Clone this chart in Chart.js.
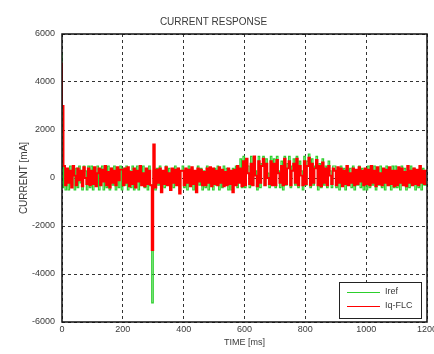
<!DOCTYPE html>
<html>
<head>
<meta charset="utf-8">
<script src="https://cdn.jsdelivr.net/npm/chart.js@4"></script>
<style>
  body { margin: 0; background: #fff; }
</style>
</head>
<body>
<canvas id="currentChart" width="434" height="354"></canvas>
<script>
// sample period of the logged currents [ms]
const sampleMs = 5;

// reference current Iref [mA], one value per sample (0..1200 ms)
const iref = [
    5200, -400, 500, -500, 300, -500, 500, -300, 200, -500, 400, -400, 500, -200, -500, 500, 300, -500, 500, -400,
    500, -500, 400, -300, 500, -500, 300, 500, -500, 200, -400, 500, -500, 400, -300, 500, -500, 300, -400, 500,
    -500, 400, -300, 500, -500, 300, -400, 500, -500, 200, 500, -500, 400, -300, 500, -400, 300, -500, 500, -300,
    -5200, 300, -500, 400, -300, 500, -500, 200, -400, 500, -300, 400, -500, 300, -400, 500, -200, 400, -500, 300,
    500, -400, 300, -500, 500, -300, 400, -500, 200, -500, 500, -300, 400, -500, 300, -400, 500, -500, 400, -300,
    -500, 400, -300, 500, -500, 300, -400, 500, -200, 400, -500, 300, -500, 400, -300, 500, -400, 300, 800, -400,
    900, -400, 800, 500, -400, 900, -300, 700, 300, -500, 900, -400, 600, 900, -300, 800, 200, -400, 900, -300,
    800, -400, 900, 300, -400, 700, -500, 900, -300, 600, 900, -400, 500, 800, -300, 900, -400, 700, 300, -500,
    900, -300, 700, 1000, -400, 800, -300, 500, 900, -500, 600, -400, 800, -300, 500, -400, 700, 300, -400, 500,
    500, -400, 300, -500, 500, -300, 400, -500, 500, -200, 400, -400, 500, -500, 300, -300, 500, -400, 400, -500,
    300, -500, 500, -400, 300, -300, 500, -500, 400, -300, 500, -400, 200, -500, 500, -300, 400, -500, 500, -400,
    500, -400, 300, -500, 500, -300, 400, -500, 200, -400, 500, -300, 400, -500, 300, -400, 500, -500, 400, -300,
    -300
];

// measured q-axis current Iq-FLC [mA]
const iqFlc = [
    4800, 3000, 500, -300, 400, -200, 300, -400, 500, 100, -300, 400, -100, 300, -350, 450, 0, -250, 400, -300,
    300, -250, 450, -350, 200, 400, -300, 350, -150, 500, -300, 250, -400, 400, -200, 300, -300, 450, -100, 350,
    350, -300, 400, -200, 450, -350, 250, -250, 400, -400, 300, -150, 500, -300, 200, -350, 400, -250, 300, -300,
    -3000, 1400, -400, 350, -200, 400, -600, 300, -250, 450, -300, 200, -500, 400, -200, 350, -300, 400, -650, 300,
    300, -300, 400, -200, 350, -350, 450, -250, 300, -600, 400, -150, 350, -300, 250, -300, 400, -200, 450, -350,
    400, -250, 300, -300, 450, -200, 350, -350, 250, -300, 400, -250, 300, -600, 350, -300, 500, -200, 400, -350,
    700, -300, 800, 200, -250, 600, -300, 900, 100, -350, 700, -200, 500, 800, -300, 600, 0, -250, 700, -300,
    600, -300, 750, 200, -200, 500, -300, 800, -250, 400, 700, -300, 300, 600, -200, 800, -300, 500, 100, -300,
    700, -250, 500, 850, -300, 600, -200, 400, 750, -300, 500, -350, 650, -200, 400, -300, 500, 100, -250, 400,
    300, -300, 450, -200, 400, -350, 300, -250, 500, -300, 200, -200, 400, -300, 350, -250, 450, -150, 300, -300,
    400, -250, 350, -300, 500, -200, 300, -350, 450, -250, 200, -300, 400, -200, 350, -300, 450, -250, 300, -350,
    300, -300, 450, -200, 400, -300, 250, -350, 500, -200, 300, -300, 400, -250, 350, -300, 500, -200, 300, -250,
    300
];

const xTicks = [0, 200, 400, 600, 800, 1000, 1200];
const yTicks = [-6000, -4000, -2000, 0, 2000, 4000, 6000];

const timeMs = iref.map((v, i) => i * sampleMs);

const fontFamily = "'Liberation Sans', Arial, sans-serif";
const textColor = '#3a3a3a';

// frame round the plot + matlab style legend box in the lower right corner
const framePlugin = {
    id: 'frame',
    afterDatasetsDraw(chart) {
        const ctx = chart.ctx;
        const a = chart.chartArea;
        ctx.save();

        // legend box
        const w = 82, h = 36;
        const bx = a.right - 6 - w;
        const by = a.bottom - 4 - h;
        ctx.fillStyle = '#fff';
        ctx.fillRect(bx, by, w, h);
        ctx.strokeStyle = '#222';
        ctx.lineWidth = 1;
        ctx.strokeRect(bx + 0.5, by + 0.5, w, h);

        ctx.font = '9px ' + fontFamily;
        ctx.textBaseline = 'middle';
        chart.data.datasets.forEach((ds, i) => {
            const ly = by + 10 + i * 14;
            ctx.strokeStyle = ds.borderColor;
            ctx.lineWidth = 1;
            ctx.beginPath();
            ctx.moveTo(bx + 8, ly + 0.5);
            ctx.lineTo(bx + 41, ly + 0.5);
            ctx.stroke();
            ctx.fillStyle = textColor;
            ctx.fillText(ds.label, bx + 46, ly);
        });

        // plot frame
        ctx.strokeStyle = '#111';
        ctx.lineWidth = 1.5;
        ctx.strokeRect(a.left, a.top, a.right - a.left, a.bottom - a.top);
        ctx.restore();
    }
};

const cdata = {
    datasets: [
        {
            label: 'Iref',
            data: timeMs.map((t, i) => ({ x: t, y: iref[i] })),
            borderColor: '#2ccf2c',
            borderWidth: 1.2,
            pointRadius: 0,
            stepped: 'after',
            order: 2,
        },
        {
            label: 'Iq-FLC',
            data: timeMs.map((t, i) => ({ x: t, y: iqFlc[i] })),
            borderColor: '#ff0000',
            borderWidth: 1.9,
            pointRadius: 0,
            stepped: 'after',
            order: 1,
        }
    ]
};

const config = {
    type: 'line',
    data: cdata,
    options: {
        responsive: false,
        animation: false,
        layout: {
            padding: { left: 0, right: 7, top: 0, bottom: 0 }
        },
        plugins: {
            legend: { display: false },
            tooltip: { enabled: false },
            title: {
                display: true,
                text: 'CURRENT RESPONSE',
                color: textColor,
                font: { family: fontFamily, size: 10, weight: 'normal' },
                padding: { top: 16, bottom: 6 }
            }
        },
        scales: {
            x: {
                type: 'linear',
                min: 0,
                max: 1200,
                afterBuildTicks: (scale) => {
                    scale.ticks = xTicks.map(v => ({ value: v }));
                },
                afterFit: (scale) => {
                    scale.height = 32;
                    scale.paddingLeft = 0;
                    scale.paddingRight = 0;
                },
                ticks: {
                    color: textColor,
                    font: { family: fontFamily, size: 9 },
                    padding: 2,
                    maxRotation: 0,
                    autoSkip: false,
                    callback: (v) => String(v)
                },
                grid: {
                    color: '#333',
                    lineWidth: 1,
                    drawTicks: false
                },
                border: { display: false, dash: [3, 3] },
                title: {
                    display: true,
                    text: 'TIME [ms]',
                    color: textColor,
                    font: { family: fontFamily, size: 9 },
                    padding: { top: 0, bottom: 6 }
                }
            },
            y: {
                min: -6000,
                max: 6000,
                afterBuildTicks: (scale) => {
                    scale.ticks = yTicks.map(v => ({ value: v }));
                },
                afterFit: (scale) => {
                    scale.width = 62;
                    scale.paddingTop = 0;
                    scale.paddingBottom = 0;
                },
                ticks: {
                    color: textColor,
                    font: { family: fontFamily, size: 9 },
                    padding: 7,
                    autoSkip: false,
                    callback: (v) => String(v)
                },
                grid: {
                    color: '#333',
                    lineWidth: 1,
                    drawTicks: false
                },
                border: { display: false, dash: [3, 3] },
                title: {
                    display: true,
                    text: 'CURRENT [mA]',
                    color: textColor,
                    font: { family: fontFamily, size: 10 },
                    padding: { top: 18, bottom: 0 }
                }
            }
        }
    },
    plugins: [framePlugin]
};

let ctx = document.getElementById('currentChart').getContext('2d');
var myChart = new Chart(ctx, config);
</script>
</body>
</html>
